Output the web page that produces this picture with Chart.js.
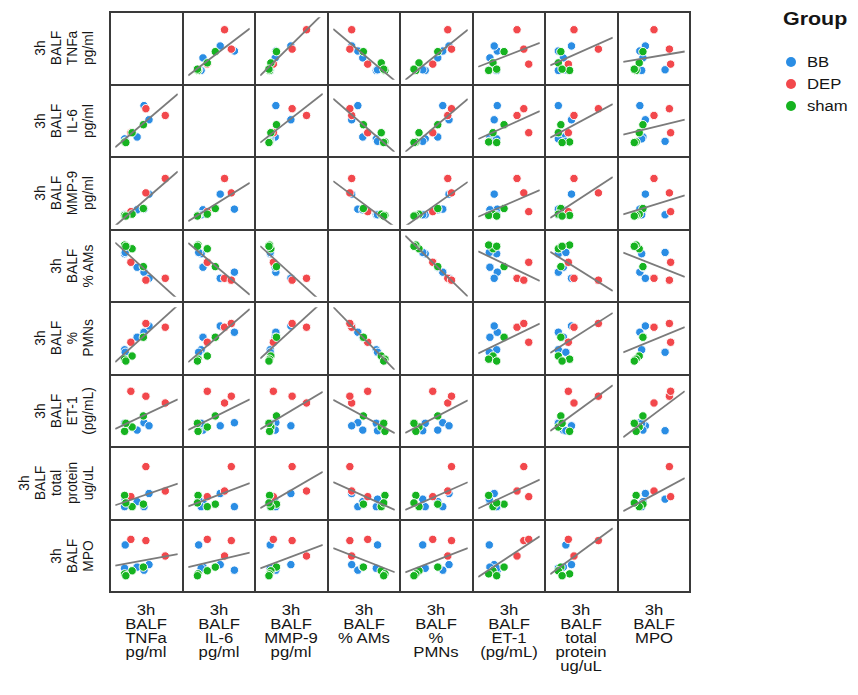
<!DOCTYPE html>
<html>
<head>
<meta charset="utf-8">
<script src="https://cdn.jsdelivr.net/npm/chart.js@4.4.1/dist/chart.umd.min.js"></script>
<style>
    body { margin: 0; background: #fff; font-family: "Liberation Sans", Arial, sans-serif; color: #151515; }
    #wrap { position: relative; width: 858px; height: 695px; overflow: hidden; }
    #wrap canvas { position: absolute; }
    .gl { position: absolute; background: #3a3a3a; z-index: 2; }
    .rlab, .clab { position: absolute; text-align: center; white-space: nowrap; }
    .rlab { font-size: 15px; line-height: 16px; transform-origin: center center; transform: scaleY(0.92) rotate(-90deg); }
    .clab { font-size: 14px; line-height: 14px; transform-origin: center top; transform: scaleX(1.19); }
    #legend { position: absolute; left: 783px; top: 9px; }
    #legend .ttl { font-weight: bold; font-size: 18px; transform-origin: left top; transform: scaleX(1.19); }
    #legend .item { position: absolute; left: 0; width: 120px; height: 20px; }
    #legend .dot { position: absolute; left: 3px; top: 5px; width: 10px; height: 10px; border-radius: 50%; }
    #legend .txt { position: absolute; left: 24px; top: 2px; font-size: 14px; line-height: 16px; transform-origin: left center; transform: scaleX(1.19); }
</style>
</head>
<body>
<div id="wrap"><div id="legend"><div class="ttl">Group</div></div></div>
<script>
// --- Data (positions, as % of the panel range) ---
// samples: BB x5, DEP x3, sham x4
const groups  = ['BB', 'BB', 'BB', 'BB', 'BB', 'DEP', 'DEP', 'DEP', 'sham', 'sham', 'sham', 'sham'];
const tnfa    = [46, 54, 35, 15, 16, 80, 49, 25, 45, 27, 15, 17];
const il6     = [75, 52, 24, 21, 17, 59, 70, 31, 44, 31, 16, 15];
const mmp9    = [25, 49, 24, 16, 16, 74, 51, 21, 26, 17, 15, 14];
const ams     = [40, 30, 48, 70, 72, 30, 27, 56, 49, 78, 84, 82];
const pmns    = [60, 70, 52, 32, 28, 68, 74, 44, 52, 22, 17, 14];
const et1     = [31, 26, 19, 30, 18, 63, 74, 82, 42, 24, 17, 30];
const protein = [13, 34, 21, 13, 25, 38, 77, 29, 17, 13, 31, 19];
const mpo     = [27, 36, 32, 30, 68, 50, 75, 77, 32, 26, 21, 18];

const variables = [tnfa, il6, mmp9, ams, pmns, et1, protein, mpo];
const varLabels = [
    ['3h', 'BALF', 'TNFa', 'pg/ml'],
    ['3h', 'BALF', 'IL-6', 'pg/ml'],
    ['3h', 'BALF', 'MMP-9', 'pg/ml'],
    ['3h', 'BALF', '% AMs'],
    ['3h', 'BALF', '%', 'PMNs'],
    ['3h', 'BALF', 'ET-1', '(pg/mL)'],
    ['3h', 'BALF', 'total', 'protein', 'ug/uL'],
    ['3h', 'BALF', 'MPO']
];
const groupNames = ['BB', 'DEP', 'sham'];
const groupColors = { BB: '#2a8de4', DEP: '#f2484c', sham: '#16b320' };

// --- Layout ---
const GRID_LEFT = 110, GRID_TOP = 12, CELL = 72.5, N = variables.length;
const wrap = document.getElementById('wrap');
const edgeX = k => Math.round(GRID_LEFT + k * CELL);
const edgeY = k => Math.round(GRID_TOP + k * CELL);

/**
 * Least squares fit of y on x
 */
const fit = (xs, ys) => {
    const n = xs.length;
    const mx = xs.reduce((a, b) => a + b, 0) / n;
    const my = ys.reduce((a, b) => a + b, 0) / n;
    let sxy = 0, sxx = 0;
    xs.forEach((x, k) => { sxy += (x - mx) * (ys[k] - my); sxx += (x - mx) * (x - mx); });
    const slope = sxy / sxx;
    return { slope, intercept: my - slope * mx };
};

const makePanel = (row, col) => {
    const x0 = edgeX(col), x1 = edgeX(col + 1), y0 = edgeY(row), y1 = edgeY(row + 1);
    const cv = document.createElement('canvas');
    cv.width = x1 - x0;
    cv.height = y1 - y0;
    cv.style.left = x0 + 'px';
    cv.style.top = y0 + 'px';
    cv.style.width = (x1 - x0) + 'px';
    cv.style.height = (y1 - y0) + 'px';
    wrap.appendChild(cv);

    const xs = variables[col], ys = variables[row];
    const { slope, intercept } = fit(xs, ys);

    // sham drawn on top, then DEP, then BB
    const pointSets = groupNames.map((g, gi) => ({
        label: g,
        data: groups.map((gr, k) => gr === g ? { x: xs[k], y: ys[k] } : null).filter(p => p),
        backgroundColor: groupColors[g],
        borderColor: 'rgba(255,255,255,0.95)',
        borderWidth: 1,
        pointRadius: 4.2,
        order: 3 - gi
    }));

    const lineSet = {
        label: 'fit',
        data: [{ x: 0, y: intercept }, { x: 100, y: intercept + slope * 100 }],
        showLine: true,
        borderColor: '#7b7b7b',
        borderWidth: 1.8,
        pointRadius: 0,
        order: 0
    };

    new Chart(cv.getContext('2d'), {
        type: 'scatter',
        data: { datasets: [...pointSets, lineSet] },
        options: {
            responsive: false,
            animation: false,
            devicePixelRatio: 1,
            layout: { padding: 0 },
            scales: {
                x: { type: 'linear', min: 0, max: 100, display: false },
                y: { type: 'linear', min: 0, max: 100, display: false }
            },
            plugins: { legend: { display: false }, tooltip: { enabled: false } }
        }
    });
};

for (let r = 0; r < N; r++) {
    for (let c = 0; c < N; c++) {
        if (r !== c) makePanel(r, c);
    }
}

// --- Grid lines ---
for (let k = 0; k <= N; k++) {
    const v = document.createElement('div');
    v.className = 'gl';
    v.style.left = (edgeX(k) - 1) + 'px';
    v.style.top = (edgeY(0) - 1) + 'px';
    v.style.width = '2px';
    v.style.height = (edgeY(N) - edgeY(0) + 2) + 'px';
    wrap.appendChild(v);

    const h = document.createElement('div');
    h.className = 'gl';
    h.style.left = (edgeX(0) - 1) + 'px';
    h.style.top = (edgeY(k) - 1) + 'px';
    h.style.width = (edgeX(N) - edgeX(0) + 2) + 'px';
    h.style.height = '2px';
    wrap.appendChild(h);
}

// --- Row labels (left, rotated) ---
varLabels.forEach((lines, r) => {
    const d = document.createElement('div');
    d.className = 'rlab';
    const W = 80, H = lines.length * 16;
    const cx = 96 - H / 2;
    const cy = GRID_TOP + (r + 0.5) * CELL;
    d.style.width = W + 'px';
    d.style.height = H + 'px';
    d.style.left = (cx - W / 2) + 'px';
    d.style.top = (cy - H / 2) + 'px';
    d.innerHTML = lines.join('<br>');
    wrap.appendChild(d);
});

// --- Column labels (bottom) ---
varLabels.forEach((lines, c) => {
    const d = document.createElement('div');
    d.className = 'clab';
    const W = 70;
    d.style.width = W + 'px';
    d.style.left = (GRID_LEFT + (c + 0.5) * CELL - W / 2) + 'px';
    d.style.top = '603px';
    d.innerHTML = lines.join('<br>');
    wrap.appendChild(d);
});

// --- Legend ---
const legend = document.getElementById('legend');
groupNames.forEach((g, gi) => {
    const it = document.createElement('div');
    it.className = 'item';
    it.style.top = (43 + gi * 22) + 'px';
    it.innerHTML = `<div class="dot" style="background:${groupColors[g]}"></div><div class="txt">${g}</div>`;
    legend.appendChild(it);
});
</script>
</body>
</html>
